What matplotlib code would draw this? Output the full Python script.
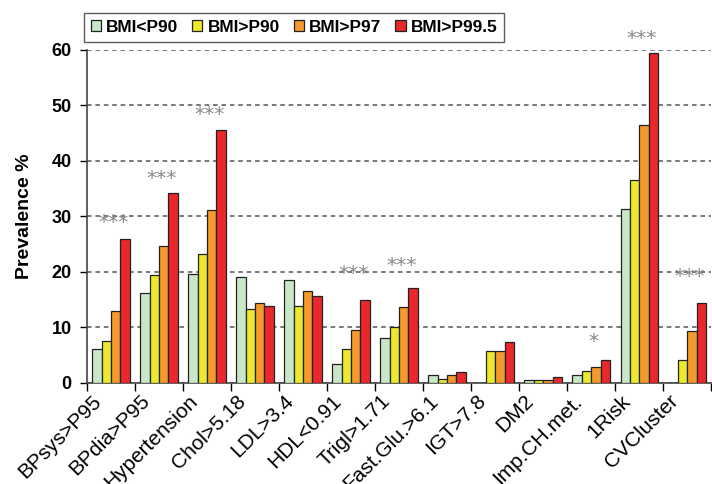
import matplotlib
matplotlib.use("Agg")
import matplotlib.pyplot as plt
import matplotlib.transforms as mtrans
import numpy as np

plt.rcParams['font.family'] = ['Liberation Sans', 'DejaVu Sans']

categories = ["BPsys>P95", "BPdia>P95", "Hypertension", "Chol>5.18", "LDL>3.4",
              "HDL<0.91", "Trigl>1.71", "Fast.Glu.>6.1", "IGT>7.8", "DM2",
              "Imp.CH.met.", "1Risk", "CVCluster"]
series_names = ["BMI<P90", "BMI>P90", "BMI>P97", "BMI>P99.5"]
bmi_lt_p90 = [6.1, 16.2, 19.6, 19.1, 18.5, 3.5, 8.1, 1.4, 0.0, 0.5, 1.4, 31.4, 0.0]
bmi_gt_p90 = [7.6, 19.5, 23.2, 13.3, 13.8, 6.1, 10.0, 0.8, 5.7, 0.6, 2.2, 36.6, 4.1]
bmi_gt_p97 = [13.0, 24.6, 31.2, 14.4, 16.6, 9.6, 13.7, 1.4, 5.8, 0.6, 2.9, 46.4, 9.4]
bmi_gt_p995 = [25.9, 34.3, 45.6, 13.9, 15.6, 15.0, 17.2, 2.0, 7.4, 1.0, 4.1, 59.4, 14.4]
sig_labels = ["***", "***", "***", "", "", "***", "***", "", "", "", "*", "***", "***"]
sig_heights = [29.0, 36.8, 48.4, 0, 0, 19.7, 21.1, 0, 0, 0, 7.5, 62.1, 19.1]

colors = ["#c8e6c8", "#ece82a", "#f59a2c", "#e8282a"]
series = [bmi_lt_p90, bmi_gt_p90, bmi_gt_p97, bmi_gt_p995]

fig = plt.figure(figsize=(7.12, 4.84), dpi=100)
ax = fig.add_axes([0.122, 0.2087, 0.877, 0.688])

x = np.arange(len(categories))
w = 0.195
for i, (vals, c, name) in enumerate(zip(series, colors, series_names)):
    ax.bar(x + (i - 1.5) * w, vals, width=w, color=c, edgecolor="#222222",
           linewidth=0.9, label=name, zorder=3)

for xi, lab, h in zip(x, sig_labels, sig_heights):
    if lab:
        ax.text(xi + 0.05, h, lab, ha="center", va="center", family="DejaVu Sans",
                fontsize=14.5, color="#888888", clip_on=False, zorder=4)

ax.set_xlim(-0.5, len(categories) - 0.5)
ax.set_ylim(0, 60)
ax.set_yticks(np.arange(0, 61, 10))
ax.yaxis.grid(True, linestyle=(0, (3, 2.5)), color="#555555", linewidth=1.1, zorder=0)
ax.tick_params(axis="y", direction="out", length=5, width=1, labelsize=13, pad=6)
for t in ax.get_yticklabels():
    t.set_fontweight("bold")

ax.set_xticks(x)
ax.set_xticklabels(categories, rotation=45, ha="right", va="top",
                   rotation_mode="anchor", fontsize=15)
ax.tick_params(axis="x", which="major", length=0, pad=6)
offset = mtrans.ScaledTranslation(-19 / 100, 0, fig.dpi_scale_trans)
for t in ax.get_xticklabels():
    t.set_transform(t.get_transform() + offset)
ax.set_xticks(np.arange(-0.5, len(categories), 1.0), minor=True)
ax.tick_params(axis="x", which="minor", direction="out", length=6, width=1)

ax.set_ylabel("Prevalence %", fontsize=14, fontweight="bold", labelpad=13)

for s in ["top", "right"]:
    ax.spines[s].set_visible(False)
for s in ["left", "bottom"]:
    ax.spines[s].set_color("#444444")
    ax.spines[s].set_linewidth(1.2)

leg = ax.legend(loc="upper left", bbox_to_anchor=(-0.005, 1.111), ncol=4,
                frameon=True, fancybox=False, edgecolor="#333333", borderaxespad=0,
                fontsize=12.4, handlelength=0.6, handleheight=0.6,
                handletextpad=0.3, columnspacing=0.8, borderpad=0.4)
leg.get_frame().set_linewidth(1.0)
for t in leg.get_texts():
    t.set_fontweight("bold")

fig.savefig("out.png", dpi=100)
